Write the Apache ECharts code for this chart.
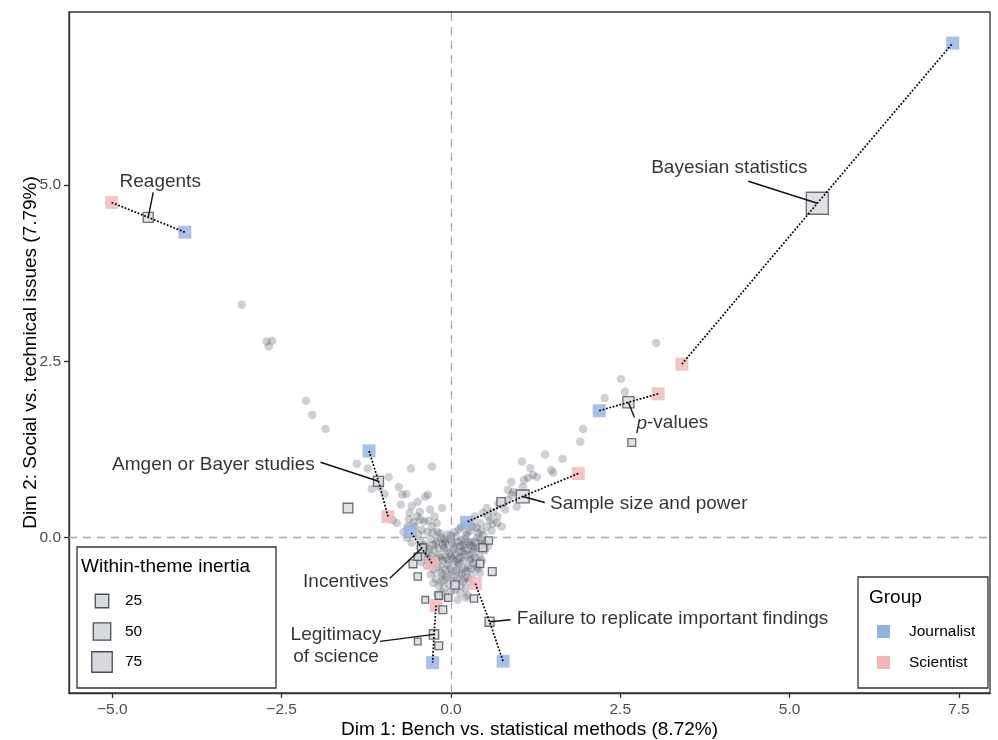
<!DOCTYPE html>
<html><head><meta charset="utf-8">
<script src="https://cdn.jsdelivr.net/npm/echarts@6/dist/echarts.min.js"></script>
<style>html,body{margin:0;padding:0;background:#fff}#c{width:998px;height:740px}</style>
</head><body><div id="c"></div>
<script>
// ---------- data ----------
const xTicks = [-5, -2.5, 0, 2.5, 5, 7.5];
const yTicks = [0, 2.5, 5];

const themeNames = ['Reagents', 'Bayesian statistics', 'p-values', 'Sample size and power',
  'Amgen or Bayer studies', 'Incentives', 'Failure to replicate important findings', 'Legitimacy\nof science'];
const themeX = [-4.47, 5.41, 2.62, 1.06, -1.07, -0.43, 0.57, -0.25];
const themeY = [4.54, 4.74, 1.92, 0.585, 0.80, -0.15, -1.19, -1.37];
const themeInertia = [10, 90, 14, 22, 10, 6, 7, 8];

const journalistX = [-3.93, 7.41, 2.19, 0.23, -1.21, -0.60, 0.77, -0.27];
const journalistY = [4.33, 7.01, 1.80, 0.22, 1.23, 0.09, -1.75, -1.77];
const scientistX = [-5.01, 3.41, 3.06, 1.88, -0.93, -0.28, 0.36, -0.22];
const scientistY = [4.75, 2.46, 2.04, 0.91, 0.30, -0.36, -0.65, -0.96];

const otherThemeX = [-1.52, 2.67, 0.74, 0.47, 0.56, 0.43, 0.61, 0.06, 0.34, -0.56, -0.49, -0.49, -0.38, -0.18, -0.04, -0.12, -0.18, -0.49];
const otherThemeY = [0.42, 1.35, 0.51, -0.14, -0.04, -0.37, -0.48, -0.67, -0.86, -0.37, -0.27, -0.55, -0.88, -0.82, -0.85, -1.02, -1.53, -1.47];
const otherThemeInertia = [9, 4, 5, 4, 3, 3, 4, 5, 3, 4, 3, 3, 2, 3, 3, 4, 4, 2];

const wordPoints = [
  // upper-left arm
  [-3.09,3.30],[-2.72,2.78],[-2.64,2.79],[-2.69,2.71],[-2.14,1.94],[-2.05,1.74],[-1.85,1.54],
  [-1.39,1.05],[-1.23,0.98],[-0.92,0.86],[-1.17,0.69],[-0.77,0.72],[-0.72,0.61],[-0.74,0.47],
  [-0.59,0.98],[-0.28,1.01],[-0.49,0.51],[-0.38,0.58],[-0.34,0.61],[-0.13,0.42],[-0.50,0.30],
  [-0.61,0.35],[-0.46,0.37],[-0.40,0.23],[-0.80,0.21],[-0.86,0.25],[-0.64,0.16],[-0.53,0.16],
  [-0.43,0.11],[-0.35,0.08],[-0.28,0.16],[-0.21,0.21],[-0.27,0.07],[-0.16,0.06],
  [-1.05,0.72],[-0.98,0.62],[-0.66,0.62],[-0.58,0.45],[-0.31,0.40],[-0.24,0.30],[-0.65,0.00],
  [-0.58,-0.07],[-0.70,0.08],[-0.55,0.22],[-0.45,0.26],[-0.33,0.24],[-0.62,0.26],
  // upper-right arm
  [3.03,2.76],[2.51,2.25],[2.57,2.07],[2.27,1.98],[1.95,1.54],[1.91,1.36],[1.39,1.18],[1.65,1.12],
  [1.48,0.96],[1.51,0.92],[1.05,1.08],[1.17,0.99],[1.21,0.89],[1.27,0.86],[1.14,0.85],[0.89,0.79],
  [1.08,0.82],[0.92,0.65],[0.84,0.54],[0.97,0.44],[0.80,0.40],[0.69,0.30],[0.62,0.37],[0.53,0.42],
  [0.47,0.35],[0.58,0.25],[0.68,0.21],[0.75,0.16],[0.53,0.16],[0.43,0.21],[0.32,0.16],[0.40,0.07],
  [0.24,0.07],[1.06,0.72],[0.84,0.68],[0.90,0.61],[0.70,0.48],[0.60,0.10],[0.15,0.15],[0.35,0.30],
  [0.30,0.22],[0.45,0.10],[0.55,0.30],[0.62,0.20],[0.38,0.14],[0.20,0.18],
  // central cluster
  [-0.45,-0.05],[-0.38,-0.12],[-0.30,-0.02],[-0.22,-0.08],[-0.15,0.00],[-0.08,-0.05],[0.00,-0.02],
  [0.08,0.02],[0.15,-0.04],[0.22,0.03],[0.30,-0.06],[0.38,0.00],[0.45,-0.08],
  [-0.42,-0.22],[-0.33,-0.28],[-0.25,-0.18],[-0.17,-0.25],[-0.10,-0.15],[-0.02,-0.22],[0.05,-0.12],
  [0.12,-0.20],[0.20,-0.14],[0.27,-0.24],[0.35,-0.16],[0.42,-0.26],[0.50,-0.18],
  [-0.36,-0.40],[-0.28,-0.35],[-0.20,-0.42],[-0.12,-0.32],[-0.05,-0.38],[0.03,-0.30],[0.10,-0.40],
  [0.18,-0.33],[0.25,-0.42],[0.33,-0.36],[0.40,-0.44],
  [-0.30,-0.52],[-0.22,-0.58],[-0.14,-0.50],[-0.06,-0.56],[0.02,-0.48],[0.09,-0.58],[0.16,-0.50],
  [0.24,-0.56],[0.31,-0.52],
  [-0.18,-0.68],[-0.10,-0.72],[-0.02,-0.66],[0.06,-0.74],[0.14,-0.68],[0.22,-0.72],
  [-0.05,-0.85],[0.10,-0.88],[0.25,-0.82],[-0.20,-0.80],
  [-0.40,-0.10],[-0.27,-0.10],[-0.12,-0.10],[0.02,-0.08],[0.18,-0.10],[0.32,-0.12],[-0.35,-0.30],
  [-0.15,-0.28],[0.00,-0.26],[0.15,-0.28],[0.30,-0.30],[-0.25,-0.46],[-0.08,-0.45],[0.08,-0.46],
  [0.22,-0.47],[-0.10,-0.60],[0.05,-0.62],[0.18,-0.62],
  [-0.48,0.05],[-0.20,0.08],[0.05,0.08],[0.28,0.10],[0.12,0.12],[-0.05,0.05],
  [0.22,-0.85],[-0.13,-0.78],[0.43,-0.50],[0.38,-0.41],
  [-0.20,-0.05],[-0.10,-0.02],[0.00,0.03],[0.10,-0.06],[0.20,-0.02],[0.28,-0.10],[0.36,-0.06],
  [-0.18,-0.15],[-0.06,-0.18],[0.04,-0.16],[0.14,-0.12],[0.24,-0.18],[0.32,-0.20],[0.40,-0.14],
  [-0.22,-0.30],[-0.08,-0.28],[0.06,-0.34],[0.20,-0.24],[0.28,-0.32],[0.36,-0.28],[0.46,-0.32],
  [-0.16,-0.40],[-0.02,-0.44],[0.12,-0.36],[0.20,-0.44],[0.30,-0.44],
  [-0.12,-0.52],[0.00,-0.54],[0.12,-0.52],[0.20,-0.58],[0.28,-0.62],
  [-0.32,-0.16],[-0.28,-0.26],[-0.36,-0.20],[-0.46,-0.14],[-0.50,-0.26],[-0.44,-0.34],
  [-0.08,-0.08],[0.06,-0.24],[0.16,-0.20],[0.10,-0.30],[-0.04,-0.32],[0.26,-0.06],[0.44,-0.02],
  [0.50,-0.08],[0.48,0.04],[0.55,-0.12],[-0.26,-0.64],[0.00,-0.76],[0.14,-0.78],[-0.14,-0.62]
];

const inertiaLegendValues = [25, 50, 75];
const groupNames = ['Journalist', 'Scientist'];

// ---------- styling ----------
const FONT = '"Liberation Sans", Arial, Helvetica, sans-serif';
const COL_J = '#92B2E1';
const COL_S = '#F3B5B5';
const THEME_FILL = '#d7d9de';
const THEME_BORDER = '#4a4f55';
const labelOffsets = [[12,-36],[-88,-35],[44,21],[126,7],[-165,-17],[-76,33],[183,-3],[-98,11]];
const leaderAnchors = [[5,-25],[-69,-22],[6,15],[22,6],[-58,-19],[-32,30],[21,-2],[-54,7]];
const sizeOf = (I) => 4 + 1.9 * Math.sqrt(I);
const tickFmt = (v) => (v < 0 ? '\u2212' : '') + Math.abs(v).toFixed(1);

const chart = echarts.init(document.getElementById('c'), null, {renderer: 'canvas'});

const connectorSeries = themeNames.map((n, i) => ({
  type: 'line',
  data: [[scientistX[i], scientistY[i]], [themeX[i], themeY[i]], [journalistX[i], journalistY[i]]],
  showSymbol: false, symbol: 'none', silent: true, z: 6,
  lineStyle: {color: '#000', width: 1.7, type: [1.8, 1.7]},
  animation: false
}));

const legendGraphics = [];
// inertia legend
legendGraphics.push({type: 'rect', shape: {x: 77, y: 547, width: 199, height: 141},
  style: {fill: '#fff', stroke: '#333', lineWidth: 1.3}, z: 100});
legendGraphics.push({type: 'text', x: 81, y: 567, z: 101,
  style: {text: 'Within-theme inertia', fontSize: 19, fontFamily: FONT, fill: '#000', verticalAlign: 'middle', align: 'left'}});
const inertiaRowY = [601, 631.5, 662];
inertiaLegendValues.forEach((v, k) => {
  const s = sizeOf(v);
  legendGraphics.push({type: 'rect', z: 101, shape: {x: 102 - s / 2, y: inertiaRowY[k] - s / 2, width: s, height: s},
    style: {fill: THEME_FILL, stroke: THEME_BORDER, lineWidth: 1.3}});
  legendGraphics.push({type: 'text', x: 125, y: inertiaRowY[k], z: 101,
    style: {text: String(v), fontSize: 15.5, fontFamily: FONT, fill: '#000', verticalAlign: 'middle', align: 'left'}});
});
// group legend
legendGraphics.push({type: 'rect', shape: {x: 858, y: 577, width: 130, height: 111},
  style: {fill: '#fff', stroke: '#333', lineWidth: 1.3}, z: 100});
legendGraphics.push({type: 'text', x: 869, y: 598, z: 101,
  style: {text: 'Group', fontSize: 19, fontFamily: FONT, fill: '#000', verticalAlign: 'middle', align: 'left'}});
const groupRowY = [631.5, 662.5];
const groupCols = [COL_J, COL_S];
groupNames.forEach((g, k) => {
  legendGraphics.push({type: 'rect', z: 101, shape: {x: 877, y: groupRowY[k] - 6.5, width: 13, height: 13},
    style: {fill: groupCols[k]}});
  legendGraphics.push({type: 'text', x: 909, y: groupRowY[k], z: 101,
    style: {text: g, fontSize: 15.5, fontFamily: FONT, fill: '#000', verticalAlign: 'middle', align: 'left'}});
});

const option = {
  animation: false,
  backgroundColor: '#fff',
  textStyle: {fontFamily: FONT},
  grid: {left: 69, right: 8, top: 12, bottom: 47, show: true, borderColor: '#333', borderWidth: 1.3,
    containLabel: false, outerBoundsMode: 'none'},
  xAxis: {
    type: 'value', min: -5.64, max: 7.96,
    name: 'Dim 1: Bench vs. statistical methods (8.72%)', nameLocation: 'middle', nameGap: 27,
    nameMoveOverlap: false,
    nameTextStyle: {fontSize: 19, color: '#000', fontFamily: FONT},
    axisLine: {show: true, onZero: false, lineStyle: {color: '#333', width: 1.3}},
    axisTick: {show: true, customValues: xTicks, length: 5, lineStyle: {color: '#333', width: 1.3}},
    axisLabel: {customValues: xTicks, formatter: tickFmt, fontSize: 15.5, color: '#4d4d4d', margin: 9, fontFamily: FONT},
    splitLine: {show: false}
  },
  yAxis: {
    type: 'value', min: -2.2, max: 7.45,
    name: 'Dim 2: Social vs. technical issues (7.79%)', nameLocation: 'middle', nameGap: 29,
    nameMoveOverlap: false,
    nameTextStyle: {fontSize: 19, color: '#000', fontFamily: FONT},
    axisLine: {show: true, onZero: false, lineStyle: {color: '#333', width: 1.3}},
    axisTick: {show: true, customValues: yTicks, length: 5, lineStyle: {color: '#333', width: 1.3}},
    axisLabel: {customValues: yTicks, formatter: tickFmt, fontSize: 15.5, color: '#4d4d4d', margin: 8, fontFamily: FONT},
    splitLine: {show: false}
  },
  graphic: legendGraphics,
  series: [
    {
      name: 'words', type: 'scatter', data: wordPoints, symbol: 'circle', symbolSize: 8.5, z: 2,
      itemStyle: {color: 'rgba(58,66,80,0.31)'},
      markLine: {
        silent: true, symbol: ['none', 'none'], label: {show: false},
        lineStyle: {type: [8, 6], color: '#a9a9a9', width: 1.3},
        data: [{xAxis: 0}, {yAxis: 0}]
      }
    },
    {
      name: 'Journalist', type: 'scatter', symbol: 'rect', symbolSize: 13, z: 3,
      data: journalistX.map((x, i) => [x, journalistY[i]]),
      itemStyle: {color: COL_J}
    },
    {
      name: 'Scientist', type: 'scatter', symbol: 'rect', symbolSize: 13, z: 3,
      data: scientistX.map((x, i) => [x, scientistY[i]]),
      itemStyle: {color: COL_S}
    },
    {
      name: 'other themes', type: 'scatter', symbol: 'rect', z: 4,
      data: otherThemeX.map((x, i) => [x, otherThemeY[i], otherThemeInertia[i]]),
      symbolSize: (v) => sizeOf(v[2]),
      itemStyle: {color: THEME_FILL, borderColor: THEME_BORDER, borderWidth: 1.3}
    },
    {
      name: 'themes', type: 'scatter', symbol: 'rect', z: 5,
      data: themeX.map((x, i) => ({name: themeNames[i], value: [x, themeY[i], themeInertia[i]]})),
      symbolSize: (v) => sizeOf(v[2]),
      itemStyle: {color: THEME_FILL, borderColor: THEME_BORDER, borderWidth: 1.3},
      label: {
        show: true, position: 'inside', fontSize: 19, color: '#000', fontFamily: FONT, lineHeight: 22,
        formatter: (p) => p.name.replace(/^p-/, '{i|p}-'),
        rich: {i: {fontStyle: 'italic', fontSize: 19, color: '#000', fontFamily: FONT}}
      },
      labelLayout: (p) => ({dx: labelOffsets[p.dataIndex][0], dy: labelOffsets[p.dataIndex][1]})
    }
  ].concat(connectorSeries)
};
chart.setOption(option);

// leader lines from each label to its theme square, positioned through the axis scales
const leaderGraphics = themeNames.map((n, i) => {
  const p = chart.convertToPixel({gridIndex: 0}, [themeX[i], themeY[i]]);
  return {type: 'line', z: 60, silent: true,
    shape: {x1: p[0] + leaderAnchors[i][0], y1: p[1] + leaderAnchors[i][1], x2: p[0], y2: p[1]},
    style: {stroke: '#111', lineWidth: 1.4}};
});
chart.setOption({graphic: legendGraphics.concat(leaderGraphics)});
</script></body></html>
